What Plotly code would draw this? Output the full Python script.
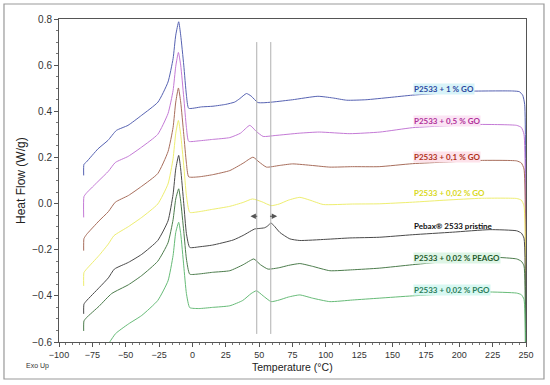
import plotly.graph_objects as go

# ---------------- data ----------------
t_go1 = [-81.5, -81.3, -79.5, -70.8, -63.3, -57.0, -48.3, -38.0, -25.8, -18.3, -14.5, -12.5, -10.3, -8.8, -6.5, -4.5, -2.8,
         6.7, 15.4, 25, 31.7, 35.5, 40.5, 44, 49, 53, 60, 75, 94, 105, 115.6, 130, 148, 165, 190, 208, 240, 245, 247.5, 249, 249.6]
hf_go1 = [0.122, 0.170, 0.180, 0.237, 0.274, 0.317, 0.339, 0.383, 0.440, 0.527, 0.628, 0.730, 0.788, 0.730, 0.600, 0.470, 0.413,
          0.419, 0.422, 0.430, 0.440, 0.455, 0.477, 0.466, 0.438, 0.437, 0.440, 0.450, 0.465, 0.458, 0.448, 0.450, 0.460, 0.470, 0.480, 0.487, 0.488, 0.485, 0.470, 0.430, -0.650]

t_go05 = [-81.5, -81.3, -79.5, -70, -63, -57.8, -48, -38, -26, -18.3, -14.5, -12.5, -10.5, -8.8, -6.5, -4.5, -2.8,
          5, 15, 28, 36, 43, 48, 53, 62, 80, 95, 118, 140.5, 165, 190, 213, 243, 246.5, 248.5, 249.6]
hf_go05 = [-0.060, 0.030, 0.045, 0.100, 0.140, 0.178, 0.205, 0.245, 0.300, 0.390, 0.490, 0.595, 0.655, 0.600, 0.460, 0.330, 0.270,
           0.272, 0.278, 0.286, 0.305, 0.339, 0.312, 0.291, 0.295, 0.305, 0.310, 0.303, 0.310, 0.329, 0.337, 0.343, 0.339, 0.330, 0.300, -0.650]

t_go01 = [-81.5, -81.3, -79.5, -70, -63, -57.8, -48, -38, -26, -18.3, -14.5, -12.5, -10.5, -8.8, -6.5, -4.5, -2.8,
          5, 15, 28, 38, 45.4, 50, 55.5, 65, 75, 90, 103, 120, 140, 165, 190, 215, 243, 246.5, 248.5, 249.6]
hf_go01 = [-0.204, -0.152, -0.135, -0.075, -0.035, 0.006, 0.035, 0.075, 0.130, 0.225, 0.330, 0.440, 0.501, 0.440, 0.300, 0.175, 0.116,
           0.116, 0.125, 0.143, 0.175, 0.201, 0.180, 0.158, 0.165, 0.172, 0.165, 0.158, 0.160, 0.160, 0.173, 0.180, 0.187, 0.185, 0.176, 0.150, -0.650]

t_go002 = [-81.5, -81.3, -79.5, -70, -63, -58.8, -48, -38, -26, -18.3, -14.5, -12.5, -10.5, -8.8, -6.5, -4.5, -2,
           5, 15, 28, 38, 45, 52, 59, 65, 72, 80.5, 88, 98, 120, 140, 165, 190, 216.6, 243, 246.5, 248.5, 249.6]
hf_go002 = [-0.357, -0.299, -0.285, -0.225, -0.175, -0.139, -0.100, -0.060, -0.002, 0.085, 0.195, 0.305, 0.360, 0.300, 0.165, 0.035, -0.038,
            -0.035, -0.025, -0.012, 0.005, 0.020, 0.008, -0.009, -0.002, 0.015, 0.027, 0.015, -0.004, -0.002, -0.001, 0.006, 0.015, 0.023, 0.022, 0.015, -0.010, -0.650]

t_pristine = [-81.5, -81.3, -79.5, -70, -63, -58.5, -48, -38, -26, -18.3, -14.5, -12.5, -10.3, -8.8, -6.5, -4.5, -2,
              5.6, 15, 30.5, 38, 44, 46.7, 50, 54, 56.5, 58.7, 61, 65.5, 73, 80.5, 100, 118, 140, 165, 195, 223, 243, 246.5, 248.5, 249.6]
hf_pristine = [-0.478, -0.436, -0.422, -0.365, -0.322, -0.284, -0.255, -0.220, -0.160, -0.075, 0.040, 0.150, 0.209, 0.150, 0.000, -0.130, -0.190,
               -0.187, -0.180, -0.158, -0.138, -0.118, -0.110, -0.108, -0.105, -0.097, -0.084, -0.095, -0.125, -0.153, -0.160, -0.155, -0.149, -0.146, -0.135, -0.124, -0.113, -0.118, -0.128, -0.150, -0.650]

t_peago = [-81.5, -81.3, -79.5, -70, -60.5, -48, -38, -26, -18.3, -14.5, -12.5, -10.3, -8.8, -6.5, -4.5, -2,
           5, 15, 28, 38, 43, 46, 51, 56.6, 65, 72, 80.5, 90, 103, 120, 140, 165, 195, 226.6, 243, 246.5, 248.5, 249.6]
hf_peago = [-0.552, -0.509, -0.495, -0.445, -0.390, -0.352, -0.312, -0.250, -0.170, -0.070, 0.020, 0.064, 0.010, -0.120, -0.240, -0.306,
            -0.305, -0.298, -0.291, -0.265, -0.248, -0.240, -0.265, -0.284, -0.278, -0.268, -0.260, -0.272, -0.291, -0.287, -0.280, -0.265, -0.248, -0.233, -0.240, -0.250, -0.270, -0.650]

t_pgo = [-66, -62, -57.5, -48, -38, -26, -18.3, -14.5, -12.5, -10.3, -8.8, -6.5, -4.5, -2,
         5, 15, 28, 37.7, 44, 48, 53, 59, 65, 72, 80.5, 90, 103, 120, 140, 165, 195, 220, 243, 246.5, 248.5, 249.6]
hf_pgo = [-0.640, -0.600, -0.563, -0.522, -0.485, -0.420, -0.335, -0.225, -0.125, -0.081, -0.130, -0.270, -0.390, -0.451,
          -0.455, -0.450, -0.443, -0.420, -0.390, -0.378, -0.400, -0.425, -0.418, -0.405, -0.396, -0.410, -0.425, -0.418, -0.410, -0.400, -0.390, -0.383, -0.388, -0.395, -0.415, -0.650]

series_names = ["P2533 + 1 % GO", "P2533 + 0,5 % GO", "P2533 + 0,1 % GO", "P2533 + 0,02 % GO",
                "Pebax® 2533 pristine", "P2533 + 0,02 % PEAGO", "P2533 + 0,02 % PGO"]
label_y = [0.498, 0.357, 0.201, 0.047, -0.099, -0.236, -0.374]
label_x = 165

x_ticks = list(range(-100, 251, 25))
y_ticks = [0.8, 0.6, 0.4, 0.2, 0.0, -0.2, -0.4, -0.6]
marker_lines_T = [48.2, 58.7]

# ---------------- style ----------------
line_colors = ["#5662b2", "#c47ad6", "#a86e5c", "#eeee70", "#4a4a4a", "#4c7c4c", "#66bb77"]
text_colors = ["#2a46a0", "#b0309a", "#b03018", "#d8d820", "#111111", "#1f5a2a", "#2a7d5a"]
text_bg = ["#d8f3f8", "#fbe4f4", "#fde2ea", "rgba(0,0,0,0)", "rgba(0,0,0,0)", "#def5e6", "#d8f8f2"]

curves = [(t_go1, hf_go1), (t_go05, hf_go05), (t_go01, hf_go01), (t_go002, hf_go002),
          (t_pristine, hf_pristine), (t_peago, hf_peago), (t_pgo, hf_pgo)]

fig = go.Figure()

for i, (t, hf) in enumerate(curves):
    fig.add_trace(go.Scatter(x=t, y=hf, mode="lines", name=series_names[i],
                             line=dict(color=line_colors[i], width=1, shape="spline", smoothing=0.5),
                             showlegend=False, hoverinfo="skip"))

annotations = []
for i, name in enumerate(series_names):
    annotations.append(dict(x=label_x, y=label_y[i], xref="x", yref="y", text="<b>%s</b>" % name,
                            showarrow=False, xanchor="left", yanchor="middle",
                            font=dict(family="Lato", size=8, color=text_colors[i]),
                            bgcolor=text_bg[i], borderpad=0))

# arrows around the pristine double peak
annotations.append(dict(x=43.5, y=-0.055, ax=49.7, ay=-0.055, xref="x", yref="y", axref="x", ayref="y",
                        text="", showarrow=True, arrowhead=2, arrowsize=0.9, arrowwidth=1.2, arrowcolor="#555555"))
annotations.append(dict(x=63.5, y=-0.055, ax=57.0, ay=-0.055, xref="x", yref="y", axref="x", ayref="y",
                        text="", showarrow=True, arrowhead=2, arrowsize=0.9, arrowwidth=1.2, arrowcolor="#555555"))

# axis titles and Exo Up
annotations.append(dict(x=-0.0814, y=0.5015, xref="paper", yref="paper", text="Heat Flow (W/g)", textangle=-90,
                        showarrow=False, xanchor="center", yanchor="middle",
                        font=dict(family="Liberation Sans", size=12, color="#222222")))
annotations.append(dict(x=0.501, y=-0.0774, xref="paper", yref="paper", text="Temperature (°C)",
                        showarrow=False, xanchor="center", yanchor="middle",
                        font=dict(family="Liberation Sans", size=10.5, color="#222222")))
annotations.append(dict(x=-0.0471, y=-0.0734, xref="paper", yref="paper", text="Exo Up",
                        showarrow=False, xanchor="center", yanchor="middle",
                        font=dict(family="Liberation Sans", size=7, color="#333333")))

shapes = []
for xv in marker_lines_T:
    shapes.append(dict(type="line", xref="x", yref="y", x0=xv, x1=xv, y0=-0.565, y1=0.70,
                       line=dict(color="#b0b0b0", width=1)))
# outer picture frame
shapes.append(dict(type="rect", xref="paper", yref="paper", x0=-0.1178, x1=1.0385, y0=-0.1146, y1=1.0464,
                   line=dict(color="#999999", width=1.2), layer="below"))

fig.update_layout(
    width=550, height=385,
    margin=dict(l=59, r=24, t=19, b=43),
    paper_bgcolor="white", plot_bgcolor="white",
    annotations=annotations, shapes=shapes,
    xaxis=dict(range=[-100, 250], tickvals=x_ticks, ticks="outside", ticklen=4, tickcolor="#555555",
               showline=True, linecolor="#555555", linewidth=1, mirror=True, showgrid=False, zeroline=False,
               tickfont=dict(family="Liberation Sans", size=9, color="#333333"),
               minor=dict(dtick=5, ticks="outside", ticklen=2, tickcolor="#777777")),
    yaxis=dict(range=[-0.6, 0.8], tickvals=y_ticks, tickformat=".1f", ticks="outside", ticklen=4, tickcolor="#555555",
               showline=True, linecolor="#555555", linewidth=1, mirror=True, showgrid=False, zeroline=False,
               tickfont=dict(family="Liberation Sans", size=10, color="#333333"),
               minor=dict(dtick=0.05, ticks="outside", ticklen=2, tickcolor="#777777")),
)

fig.write_html("out.html", config={"displayModeBar": False},
               post_script="document.body.style.margin='0px'; document.body.style.overflow='hidden';")
